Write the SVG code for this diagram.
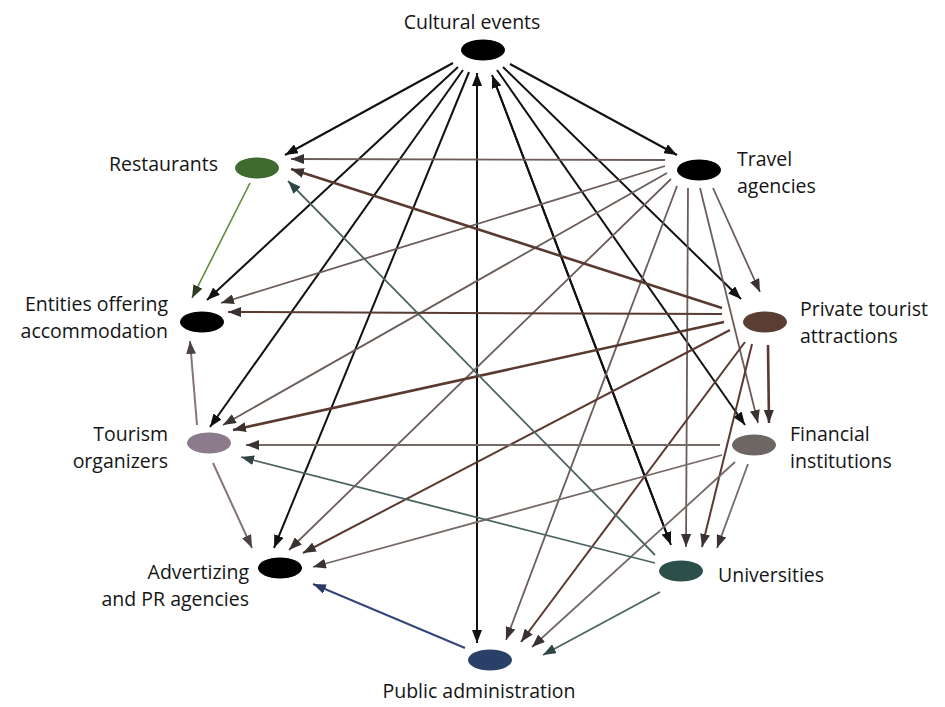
<svg xmlns="http://www.w3.org/2000/svg" width="945" height="707" viewBox="0 0 945 707">
<defs>
<style>
.lbl{font-family:"Open Sans","Liberation Sans",sans-serif;font-size:19.5px;fill:#151515}
.e{fill:none;stroke-linecap:butt}
.k{stroke:#111;stroke-width:2;marker-end:url(#mk)}
.tr{stroke:#6b5d58;stroke-width:1.8;marker-end:url(#mb)}
.pr{stroke:#5a3a30;stroke-width:2;marker-end:url(#mb)}
.pt{stroke:#5a3a30;stroke-width:2.6;marker-end:url(#mb)}
.fi{stroke:#756a65;stroke-width:1.8;marker-end:url(#mb)}
.un{stroke:#4d6461;stroke-width:1.8;marker-end:url(#mt)}
.pa{stroke:#34467a;stroke-width:2;marker-end:url(#mn)}
.to{stroke:#85737f;stroke-width:2;marker-end:url(#mp)}
.re{stroke:#5f8a3c;stroke-width:1.6;marker-end:url(#mg)}
</style>
<marker id="mk" markerUnits="userSpaceOnUse" markerWidth="13" markerHeight="10" refX="13" refY="5" orient="auto"><path d="M0,0 L13,5 L0,10 z" fill="#111"/></marker>
<marker id="mb" markerUnits="userSpaceOnUse" markerWidth="13" markerHeight="10" refX="13" refY="5" orient="auto"><path d="M0,0 L13,5 L0,10 z" fill="#3a3230"/></marker>
<marker id="mt" markerUnits="userSpaceOnUse" markerWidth="13" markerHeight="10" refX="13" refY="5" orient="auto"><path d="M0,0 L13,5 L0,10 z" fill="#2f4542"/></marker>
<marker id="mn" markerUnits="userSpaceOnUse" markerWidth="13" markerHeight="10" refX="13" refY="5" orient="auto"><path d="M0,0 L13,5 L0,10 z" fill="#2a3a66"/></marker>
<marker id="mp" markerUnits="userSpaceOnUse" markerWidth="13" markerHeight="10" refX="13" refY="5" orient="auto"><path d="M0,0 L13,5 L0,10 z" fill="#4e4249"/></marker>
<marker id="mg" markerUnits="userSpaceOnUse" markerWidth="13" markerHeight="10" refX="13" refY="5" orient="auto"><path d="M0,0 L13,5 L0,10 z" fill="#2e3a24"/></marker>
</defs>
<rect width="945" height="707" fill="#fff"/>
<g id="connectors" class="e">
<path class="k" d="M453,63 L285,155"/>
<path class="k" d="M458,67 L207,300"/>
<path class="k" d="M463,70 L210,427"/>
<path class="k" d="M469,72 L274,548"/>
<path class="k" d="M477,80 L477,643"/>
<path class="k" d="M477,636 L477,73"/>
<path class="k" d="M494,80 L671,545"/>
<path class="k" d="M669,540 L492,75"/>
<path class="k" d="M497,70 L745,425"/>
<path class="k" d="M503,67 L741,299"/>
<path class="k" d="M510,64 L677,155"/>
<path class="tr" d="M665,160 L291,159"/>
<path class="tr" d="M665,166 L221,303"/>
<path class="tr" d="M667,173 L223,425"/>
<path class="tr" d="M671,179 L289,550"/>
<path class="tr" d="M677,186 L506,640"/>
<path class="tr" d="M688,188 L686,547"/>
<path class="tr" d="M700,188 L758,423"/>
<path class="tr" d="M713,188 L760,292"/>
<path class="pt" d="M722,308 L291,169"/>
<path class="pr" d="M722,314 L228,312"/>
<path class="pt" d="M724,322 L233,430"/>
<path class="pr" d="M730,330 L303,553"/>
<path class="pr" d="M745,342 L521,642"/>
<path class="pr" d="M752,344 L702,547"/>
<path class="pt" d="M768,345 L769,423"/>
<path class="fi" d="M720,445 L246,445"/>
<path class="fi" d="M722,455 L313,567"/>
<path class="fi" d="M735,462 L532,647"/>
<path class="fi" d="M748,464 L717,548"/>
<path class="un" d="M655,555 L288,181"/>
<path class="un" d="M655,563 L241,457"/>
<path class="un" d="M660,592 L543,655"/>
<path class="pa" d="M465,648 L313,584"/>
<path class="to" d="M197,425 L190,341"/>
<path class="to" d="M213,463 L252,548"/>
<path class="re" d="M250,183 L192,298"/>
</g>
<g id="cultural-events"><ellipse cx="483" cy="50" rx="22" ry="10.5" fill="#000"/><text class="lbl" x="472" y="29" text-anchor="middle">Cultural events</text></g>
<g id="restaurants"><ellipse cx="257" cy="168" rx="22" ry="10.5" fill="#3f6b2f"/><text class="lbl" x="218" y="171" text-anchor="end">Restaurants</text></g>
<g id="travel-agencies"><ellipse cx="699" cy="170" rx="22" ry="10.5" fill="#000"/><text class="lbl" x="737" y="166">Travel</text><text class="lbl" x="737" y="193">agencies</text></g>
<g id="entities-accommodation"><ellipse cx="202" cy="322" rx="22" ry="10.5" fill="#000"/><text class="lbl" x="168" y="311" text-anchor="end">Entities offering</text><text class="lbl" x="168" y="338" text-anchor="end">accommodation</text></g>
<g id="private-tourist-attractions"><ellipse cx="765" cy="322" rx="22" ry="10.5" fill="#5a3d33"/><text class="lbl" x="800" y="316">Private tourist</text><text class="lbl" x="800" y="343">attractions</text></g>
<g id="tourism-organizers"><ellipse cx="209" cy="443" rx="22" ry="10.5" fill="#8b7b8c"/><text class="lbl" x="168" y="441" text-anchor="end">Tourism</text><text class="lbl" x="168" y="468" text-anchor="end">organizers</text></g>
<g id="financial-institutions"><ellipse cx="754" cy="445" rx="22" ry="10.5" fill="#6e6662"/><text class="lbl" x="790" y="441">Financial</text><text class="lbl" x="790" y="468">institutions</text></g>
<g id="advertizing-pr"><ellipse cx="280" cy="568" rx="22" ry="10.5" fill="#000"/><text class="lbl" x="249" y="579" text-anchor="end">Advertizing</text><text class="lbl" x="249" y="606" text-anchor="end">and PR agencies</text></g>
<g id="universities"><ellipse cx="681" cy="571" rx="22" ry="10.5" fill="#2d4f4a"/><text class="lbl" x="718" y="582">Universities</text></g>
<g id="public-administration"><ellipse cx="490" cy="660" rx="22" ry="10.5" fill="#2b4068"/><text class="lbl" x="479" y="698" text-anchor="middle">Public administration</text></g>
</svg>
